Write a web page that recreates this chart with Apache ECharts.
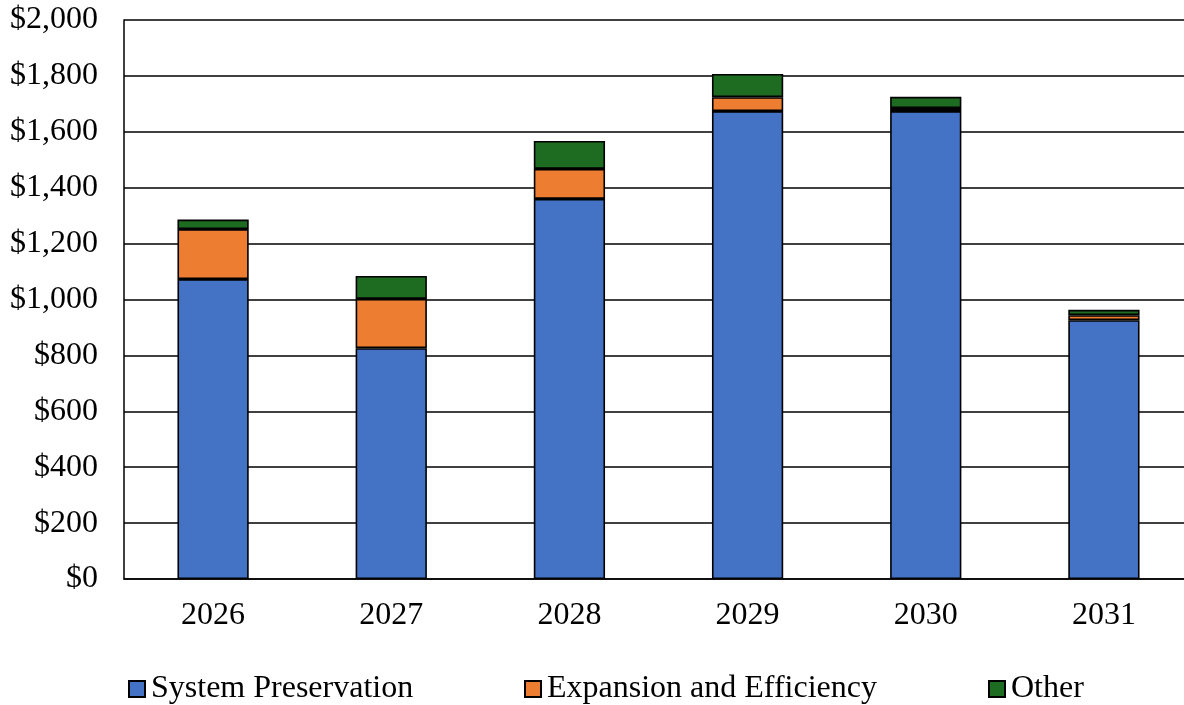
<!DOCTYPE html>
<html>
<head>
<meta charset="utf-8">
<script src="https://cdn.jsdelivr.net/npm/echarts@6/dist/echarts.min.js"></script>
<style>
  html, body { margin: 0; padding: 0; background: #fff; overflow: hidden; width: 1184px; height: 705px; }
  /* canvas is a little wider than the page so the plot area runs off the right edge */
  #chart { width: 1200px; height: 705px; }
</style>
</head>
<body>
<div id="chart"></div>
<script>
// Capital program by year ($ millions)
const years = ['2026', '2027', '2028', '2029', '2030', '2031'];
const systemPreservation = [1073, 826, 1360, 1674, 1674, 926];
const expansionEfficiency = [179, 176, 107, 50, 11, 18];
const other = [34, 82, 100, 83, 40, 19];
const seriesNames = ['System Preservation', 'Expansion and Efficiency', 'Other'];
const colors = ['#4472C4', '#ED7D31', '#1E6B22'];

const font = 'Liberation Serif, Times New Roman, serif';
const chart = echarts.init(document.getElementById('chart'), null, { renderer: 'canvas' });

const makeSeries = (name, data, color) => ({
  name: name,
  type: 'bar',
  stack: 'total',
  data: data,
  barWidth: '40%',
  itemStyle: { color: color, borderColor: '#000', borderWidth: 1.6 }
});

const legendBase = {
  top: 668,
  itemWidth: 16,
  itemHeight: 16,
  icon: 'rect',
  textStyle: { fontFamily: font, fontSize: 32, color: '#000', padding: [0, 0, 0, 1] },
  itemStyle: { borderColor: '#000', borderWidth: 2 }
};

chart.setOption({
  animation: false,
  color: colors,
  grid: { left: 124, width: 1069, top: 20, height: 559, containLabel: false },
  legend: [
    Object.assign({}, legendBase, { data: [seriesNames[0]], left: 123 }),
    Object.assign({}, legendBase, { data: [seriesNames[1]], left: 519 }),
    Object.assign({}, legendBase, { data: [seriesNames[2]], left: 983 })
  ],
  xAxis: {
    type: 'category',
    data: years,
    axisLine: { lineStyle: { color: '#000', width: 1.5 } },
    axisTick: { show: false },
    axisLabel: { fontFamily: font, fontSize: 32, color: '#000', margin: 21 }
  },
  yAxis: {
    type: 'value',
    min: 0,
    max: 2000,
    interval: 200,
    axisLine: { show: true, lineStyle: { color: '#000', width: 1.5 } },
    axisTick: { show: false },
    splitLine: { lineStyle: { color: '#000', width: 1.5 } },
    axisLabel: {
      fontFamily: font, fontSize: 32, color: '#000', margin: 26,
      formatter: v => '$' + v.toLocaleString('en-US')
    }
  },
  series: [
    makeSeries(seriesNames[0], systemPreservation, colors[0]),
    makeSeries(seriesNames[1], expansionEfficiency, colors[1]),
    makeSeries(seriesNames[2], other, colors[2])
  ]
});
</script>
</body>
</html>
